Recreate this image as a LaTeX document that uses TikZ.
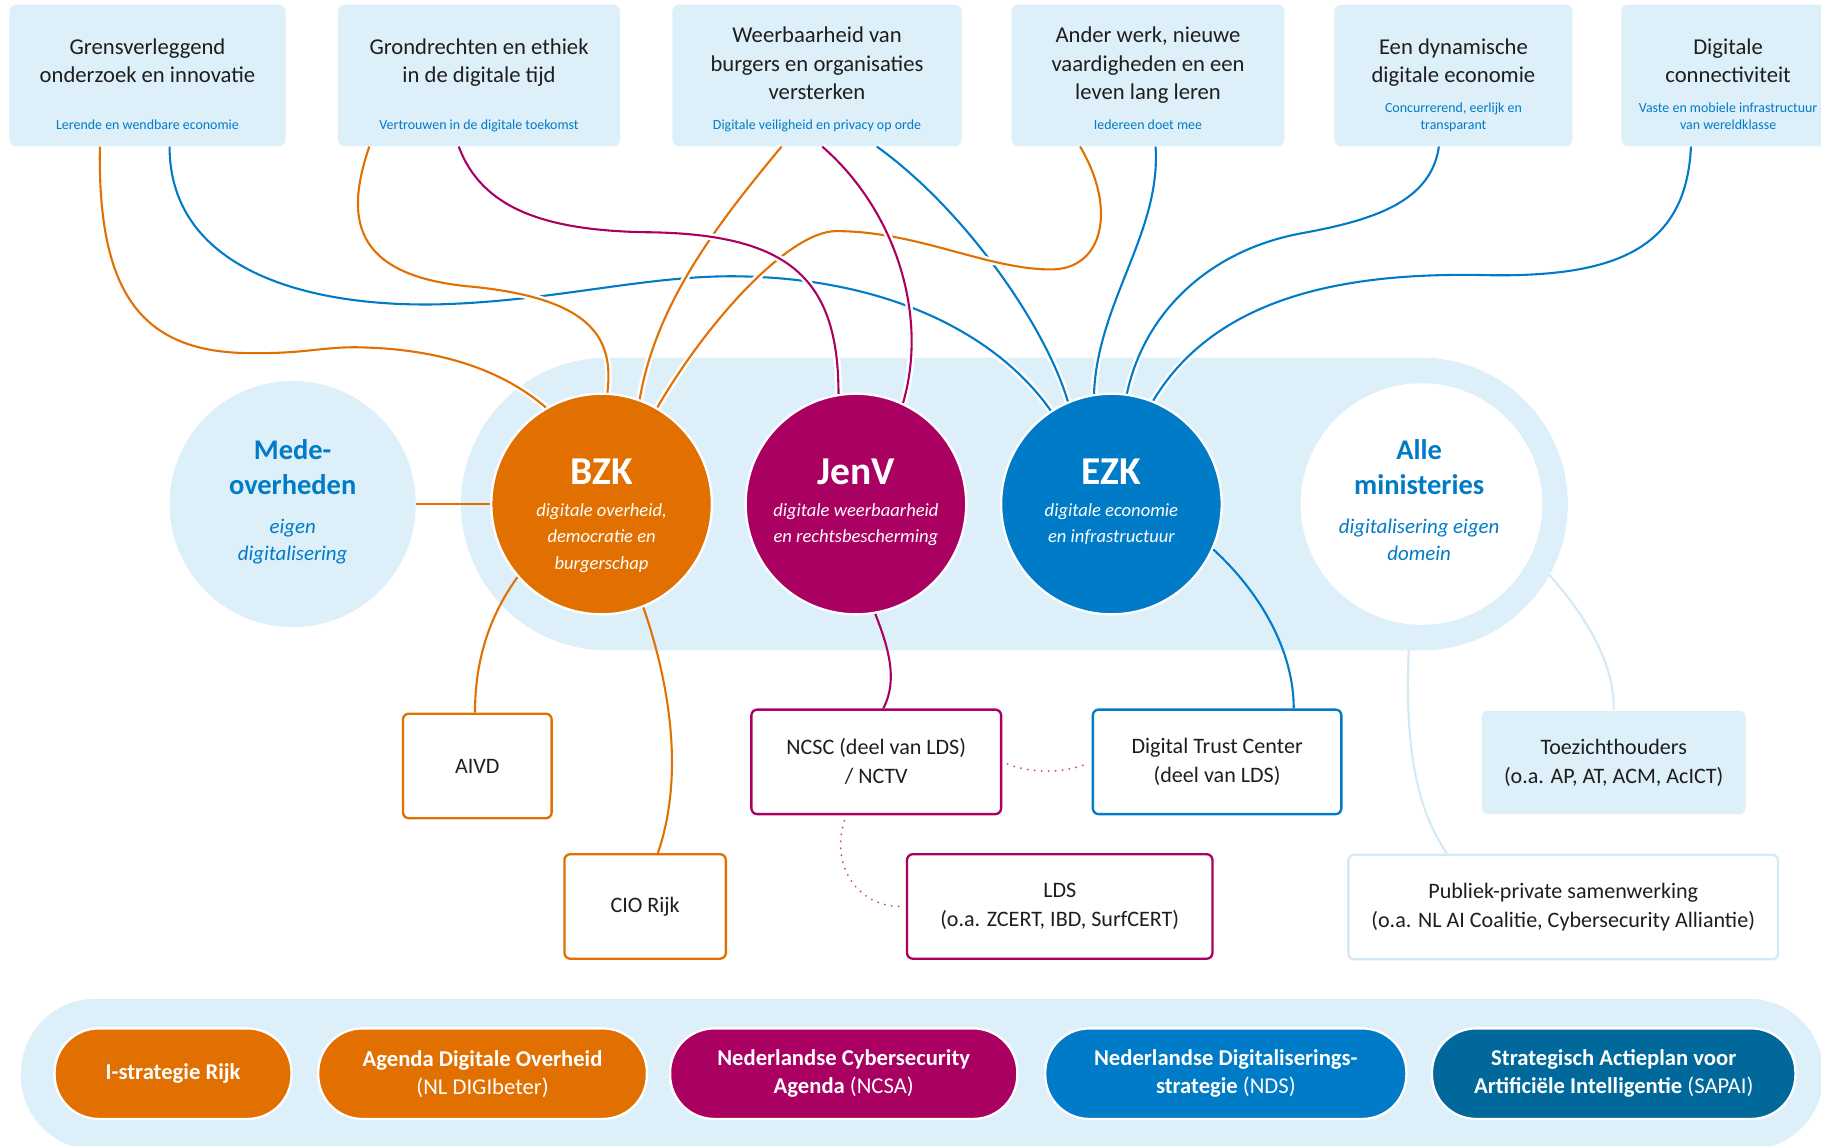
\documentclass[tikz,border=0pt]{standalone}
\usepackage{fontspec}
\setmainfont{Carlito}
\usepackage{tikz}
\usetikzlibrary{positioning}

\definecolor{rijkorange}{HTML}{E17000}
\definecolor{rijkpurple}{HTML}{A90061}
\definecolor{rijkblue}{HTML}{007BC7}
\definecolor{rijkdark}{HTML}{01689B}
\definecolor{rijklight}{HTML}{DDEFF8}
\definecolor{rijkpale}{HTML}{D2E9F6}
\definecolor{rijktext}{HTML}{1E1E1E}

\begin{document}
\begin{tikzpicture}[
    x=1pt, y=-1pt,
    font=\fontsize{19}{25}\selectfont,
    theme/.style={fill=rijklight, rounded corners=6pt, minimum height=122pt, inner sep=0pt},
    title/.style={anchor=base, align=center, text=rijktext, font=\fontsize{19.5}{24.5}\selectfont},
    goal/.style={anchor=base, align=center, text=rijkblue, font=\fontsize{12}{14.5}\selectfont},
    side/.style={circle, minimum size=212pt, inner sep=0pt},
    sidename/.style={anchor=base, align=center, text=rijkblue, font=\fontsize{24.5}{30}\selectfont\bfseries},
    sidetask/.style={anchor=base, align=center, text=rijkblue, font=\fontsize{18}{24}\selectfont\itshape},
    org/.style={circle, draw=white, line width=2pt, minimum size=190pt, inner sep=0pt},
    orgname/.style={anchor=base, text=white, font=\fontsize{34}{34}\selectfont\bfseries},
    orgtask/.style={anchor=base, align=center, text=white, font=\fontsize{16}{22.5}\selectfont\itshape},
    unit/.style={draw, line width=2pt, rounded corners=5pt, fill=white, text=rijktext, minimum height=90pt, inner sep=0pt, align=center},
    agenda/.style={draw=white, line width=2pt, rounded corners=38pt, minimum height=78pt, inner sep=0pt, text=white, align=center, font=\fontsize{19.5}{24}\selectfont},
    link/.style={line width=1.8pt, preaction={draw=white, line width=6pt}},
    sublink/.style={line width=1.8pt},
    dotlink/.style={rijkpurple!70, line width=1.8pt, line cap=round, dash pattern=on 0pt off 6pt, shorten <=5pt, shorten >=5pt}
]
\useasboundingbox (0,0) rectangle (1568,986);
\clip (0,0) rectangle (1568,986);

% --- Themes ---
\node[theme, minimum width=238pt] (b1) at (127,65) {};
\node[theme, minimum width=243pt] (b2) at (412.5,65) {};
\node[theme, minimum width=249pt] (b3) at (703.5,65) {};
\node[theme, minimum width=235pt] (b4) at (988.5,65) {};
\node[theme, minimum width=205pt] (b5) at (1251.5,65) {};
\node[theme, minimum width=184pt] (b6) at (1488,65) {};

% (base = last line)
\node[title] (t1) at (127,71) {Grensverleggend\\onderzoek en innovatie};
\node[goal] (g1) at (127,111.5) {Lerende en wendbare economie};
\node[title] (t2) at (412.5,71) {Grondrechten en ethiek\\in de digitale tijd};
\node[goal] (g2) at (412.5,111.5) {Vertrouwen in de digitale toekomst};
\node[title] (t3) at (703.5,86) {Weerbaarheid van\\burgers en organisaties\\versterken};
\node[goal] (g3) at (703.5,111.5) {Digitale veiligheid en privacy op orde};
\node[title] (t4) at (988.5,86) {Ander werk, nieuwe\\vaardigheden en een\\leven lang leren};
\node[goal] (g4) at (988.5,111.5) {Iedereen doet mee};
\node[title] (t5) at (1251.5,71) {Een dynamische\\digitale economie};
\node[goal] (g5) at (1251.5,111.5) {Concurrerend, eerlijk en\\transparant};
\node[title] (t6) at (1488,71) {Digitale\\connectiviteit};
\node[goal] (g6) at (1488,111.5) {Vaste en mobiele infrastructuur\\van wereldklasse};

% --- Ministries ---
\node[fill=rijklight, rounded corners=126pt, minimum width=953pt, minimum height=252pt, inner sep=0pt] (hub) at (873.5,434) {};
\node[side, fill=rijklight] (mede) at (252,434) {};
\node[side, fill=white, minimum size=208pt, outer sep=22pt] (alle) at (1224,434) {};
\node[sidename] (mede-n) at (252,426) {Mede-\\overheden};
\node[sidetask] (mede-t) at (252,483) {eigen\\digitalisering};
\node[sidename] (alle-n) at (1222,426) {Alle\\ministeries};
\node[sidetask] (alle-t) at (1222,483) {digitalisering eigen\\domein};

\node[org, fill=rijkorange] (bzk) at (518,434) {};
\node[orgname] (bzk-n) at (518,417) {BZK};
\node[orgtask] (bzk-t) at (518,490) {digitale overheid,\\democratie en\\burgerschap};
\node[org, fill=rijkpurple] (jenv) at (737,434) {};
\node[orgname] (jenv-n) at (737,417) {JenV};
\node[orgtask] (jenv-t) at (737,467.5) {digitale weerbaarheid\\en rechtsbescherming};
\node[org, fill=rijkblue] (ezk) at (957,434) {};
\node[orgname] (ezk-n) at (957,417) {EZK};
\node[orgtask] (ezk-t) at (957,467.5) {digitale economie\\en infrastructuur};

% --- Services ---
\node[unit, draw=rijkorange, minimum width=128pt] (aivd) at (411,659.5) {AIVD};
\node[unit, draw=rijkorange, minimum width=139pt] (cio) at (555.5,780.5) {CIO Rijk};
\node[unit, draw=rijkpurple, minimum width=215pt] (ncsc) at (754.5,656) {NCSC (deel van LDS)\\/ NCTV};
\node[unit, draw=rijkblue, minimum width=214pt] (dtc) at (1048,656) {Digital Trust Center\\(deel van LDS)};
\node[unit, draw=rijkpurple, minimum width=263pt] (lds) at (912.5,780.5) {LDS\\(o.a. ZCERT, IBD, SurfCERT)};
\node[unit, draw=none, fill=rijklight, minimum width=227pt, minimum height=89pt] (toez) at (1389.5,656.5) {Toezichthouders\\(o.a. AP, AT, ACM, AcICT)};
\node[unit, draw=rijkpale, minimum width=370pt] (ppp) at (1346,781) {Publiek-private samenwerking\\(o.a. NL AI Coalitie, Cybersecurity Alliantie)};

% --- Agendas ---
\node[fill=rijklight, rounded corners=64pt, minimum width=1552pt, minimum height=130pt, inner sep=0pt] (strip) at (794,925) {};
\node[agenda, fill=rijkorange, minimum width=204pt] (istrat) at (149,924.5) {\textbf{I-strategie Rijk}};
\node[agenda, fill=rijkorange, minimum width=283pt] (ado) at (415.5,924.5) {\textbf{Agenda Digitale Overheid}\\(NL DIGIbeter)};
\node[agenda, fill=rijkpurple, minimum width=299pt] (ncsa) at (726.5,924.5) {\textbf{Nederlandse Cybersecurity}\\\textbf{Agenda} (NCSA)};
\node[agenda, fill=rijkblue, minimum width=311pt] (nds) at (1055.5,924.5) {\textbf{Nederlandse Digitaliserings-}\\\textbf{strategie} (NDS)};
\node[agenda, fill=rijkdark, minimum width=313pt] (sapai) at (1389.5,924.5) {\textbf{Strategisch Actieplan voor}\\\textbf{Artificiële Intelligentie} (SAPAI)};

% --- Links themes -> ministries ---
\draw[link, rijkblue] ([xshift=19pt]b1.south) .. controls (146,230) and (260,265) .. (380,262)
    .. controls (480,259) and (560,236) .. (640,238) .. controls (770,241) and (860,290) .. (ezk.123);
\draw[link, rijkorange] ([xshift=-41pt]b1.south) .. controls (84,250) and (120,302) .. (211,304)
    .. controls (260,305) and (275,299) .. (306,299) .. controls (390,300) and (440,325) .. (bzk.120);
\draw[link, rijkorange] ([xshift=-94.5pt]b2.south) .. controls (298,185) and (300,238) .. (408,247)
    .. controls (515,258) and (528,295) .. (bzk.87);
\draw[link, rijkorange] ([xshift=-30.5pt]b3.south) .. controls (620,190) and (565,260) .. (bzk.70);
\draw[link, rijkblue] ([xshift=51.5pt]b3.south) .. controls (830,180) and (900,280) .. (ezk.113);
\draw[link, rijkorange] ([xshift=-58.5pt]b4.south) .. controls (962,180) and (950,232) .. (905,232)
    .. controls (850,232) and (790,199) .. (720,199) .. controls (680,199) and (610,275) .. (bzk.60);
\draw[link, rijkpurple] ([xshift=-17.5pt]b2.south) .. controls (415,180) and (470,199) .. (560,200)
    .. controls (680,202) and (722,240) .. (jenv.99);
\draw[link, rijkpurple] ([xshift=4.5pt]b3.south) .. controls (770,180) and (800,270) .. (jenv.65);
\draw[link, rijkblue] ([xshift=6.5pt]b4.south) .. controls (1000,200) and (945,260) .. (ezk.99);
\draw[link, rijkblue] ([xshift=-12.5pt]b5.south) .. controls (1232,175) and (1180,190) .. (1120,201)
    .. controls (1040,216) and (985,270) .. (ezk.82);
\draw[link, rijkblue] ([xshift=-32pt]b6.south) .. controls (1452,215) and (1390,238) .. (1285,237)
    .. controls (1170,234) and (1050,250) .. (ezk.68);

% --- Links ministries -> services ---
\draw[sublink, rijkorange] (mede) -- (bzk);
\draw[sublink, rijkorange] (bzk.221) .. controls (418,535) and (409,575) .. ([xshift=-2pt]aivd.north);
\draw[sublink, rijkorange] (bzk.292) .. controls (572,575) and (592,660) .. ([xshift=11pt]cio.north);
\draw[sublink, rijkpurple] (jenv.280) .. controls (764,555) and (774,585) .. ([xshift=6pt]ncsc.north);
\draw[sublink, rijkblue] (ezk.336) .. controls (1085,510) and (1114,560) .. ([xshift=66pt]dtc.north);
\draw[sublink, rijkpale] (alle.-29) .. controls (1365,530) and (1390,570) .. (toez.north);
\draw[sublink, rijkpale] (alle.-95) .. controls (1209,650) and (1222,700) .. ([xshift=-100pt]ppp.north);
\draw[dotlink] (ncsc.east) .. controls +(25,10) and +(-25,10) .. (dtc.west);
\draw[dotlink] ([xshift=-26pt]ncsc.south) .. controls +(-14,45) and +(-40,0) .. (lds.west);

\end{tikzpicture}
\end{document}
